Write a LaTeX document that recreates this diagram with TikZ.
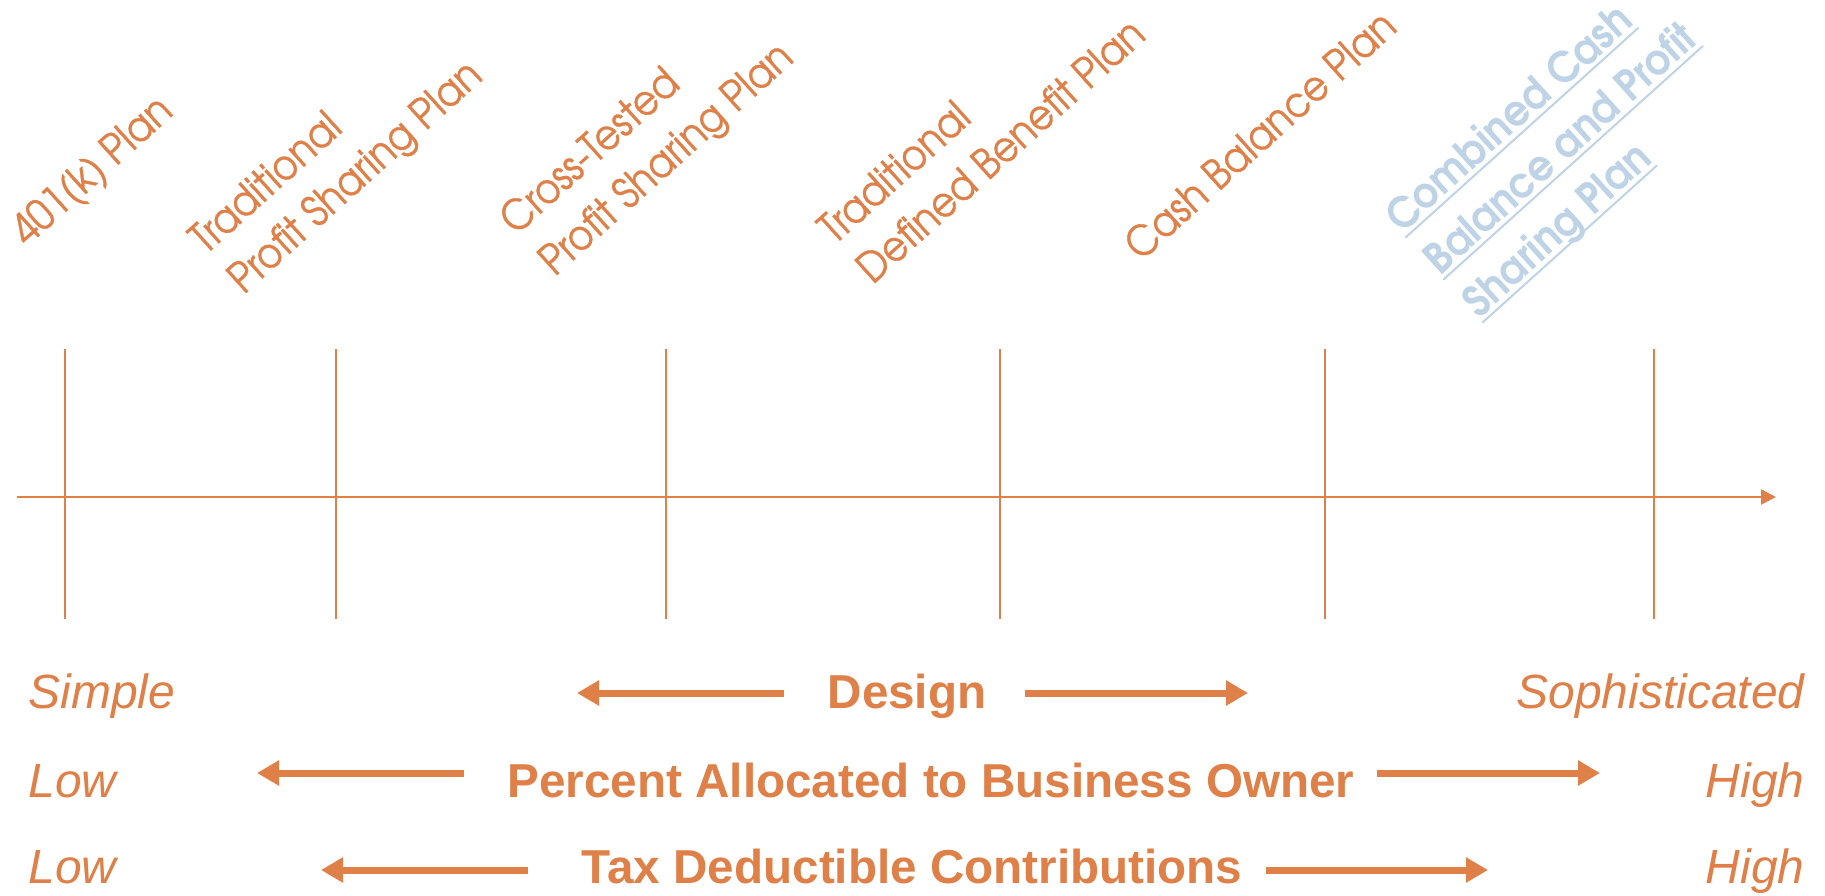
\documentclass[tikz,border=0pt]{standalone}
\usepackage{fontspec}
\usetikzlibrary{arrows.meta,calc}
\setsansfont{Liberation Sans}
\newfontfamily\geofont{texgyreadventor-regular}[Extension=.otf, FakeStretch=0.9, FakeBold=0.7]
\newfontfamily\geoboldfont{texgyreadventor-bold}[Extension=.otf, FakeStretch=0.93]
\definecolor{planorange}{RGB}{222,128,72}
\definecolor{planblue}{RGB}{190,211,230}

\begin{document}
\begin{tikzpicture}[x=0.5pt,y=-0.5pt,
  plan/.style={anchor=base west, rotate=42, inner sep=0pt, outer sep=0pt,
    text=planorange, font=\geofont\fontsize{21}{23}\selectfont},
  combo/.style={plan, text=planblue, font=\geoboldfont\fontsize{21.3}{23}\selectfont},
  uline/.style={draw=planblue, line width=1pt},
  tick/.style={draw=planorange, line width=1pt},
  axis/.style={draw=planorange, line width=1.3pt, -{Triangle[length=7.5pt,width=7.5pt]}},
  bigarrow/.style={draw=planorange, line width=3.5pt, -{Triangle[length=11pt,width=12pt]}},
  endlabel/.style={inner sep=0pt, text=planorange, font=\sffamily\itshape\fontsize{24}{28}\selectfont},
  midlabel/.style={inner sep=0pt, anchor=base, text=planorange, font=\sffamily\bfseries\fontsize{23.8}{28}\selectfont},
]
\useasboundingbox (0,0) rectangle (1825,895);

% plan names, slanted
\node[plan] (p1)  at (27,247)   {401(k) Plan};
\node[plan] (p2a) at (206,255)  {Traditional};
\node[plan] (p2b) at (244,295)  {Profit Sharing Plan};
\node[plan] (p3a) at (516,236)  {Cross-Tested};
\node[plan] (p3b) at (555,277)  {Profit Sharing Plan};
\node[plan] (p4a) at (835,245)  {Traditional};
\node[plan] (p4b) at (873,285)  {Defined Benefit Plan};
\node[plan] (p5)  at (1141,262) {Cash Balance Plan};
\node[combo] (p6a) at (1402,234) {Combined Cash};
\node[combo] (p6b) at (1440,276) {Balance and Profit};
\node[combo] (p6c) at (1479,319) {Sharing Plan};

% underlines of the combined plan
\foreach \n in {p6a,p6b,p6c}
  \draw[uline] ($(\n.base west)+(3.3,3.7)$) -- ($(\n.base east)+(3.3,3.7)$);

% time line with the plan ticks
\coordinate (ax0) at (17,497);
\coordinate (ax1) at (1776,497);
\draw[axis] (ax0) -- (ax1);
\foreach \x [count=\i] in {65,336,666,1000,1325,1654} {
  \coordinate (tt\i) at (\x,349);
  \coordinate (tb\i) at (\x,619);
  \draw[tick] (tt\i) -- (tb\i);
}

% scale rows
\node[endlabel, anchor=base west] (simple) at (28,708)   {Simple};
\node[endlabel, anchor=base east] (soph)   at (1805,708) {Sophisticated};
\node[endlabel, anchor=base west] (low1)   at (28,797)   {Low};
\node[endlabel, anchor=base east] (high1)  at (1805,797) {High};
\node[endlabel, anchor=base west] (low2)   at (28,883)   {Low};
\node[endlabel, anchor=base east] (high2)  at (1805,883) {High};

\node[midlabel] (design)  at (907,708) {Design};
\node[midlabel] (percent) at (931,797) {Percent Allocated to Business Owner};
\node[midlabel] (tax)     at (912,883) {Tax Deductible Contributions};

\coordinate (dL0) at (784,693);  \coordinate (dL1) at (577,693);
\coordinate (dR0) at (1025,693); \coordinate (dR1) at (1248,693);
\coordinate (pL0) at (464,773);  \coordinate (pL1) at (257,773);
\coordinate (pR0) at (1377,773); \coordinate (pR1) at (1600,773);
\coordinate (xL0) at (528,870);  \coordinate (xL1) at (321,870);
\coordinate (xR0) at (1266,870); \coordinate (xR1) at (1488,870);
\draw[bigarrow] (dL0) -- (dL1);
\draw[bigarrow] (dR0) -- (dR1);
\draw[bigarrow] (pL0) -- (pL1);
\draw[bigarrow] (pR0) -- (pR1);
\draw[bigarrow] (xL0) -- (xL1);
\draw[bigarrow] (xR0) -- (xR1);
\end{tikzpicture}
\end{document}
